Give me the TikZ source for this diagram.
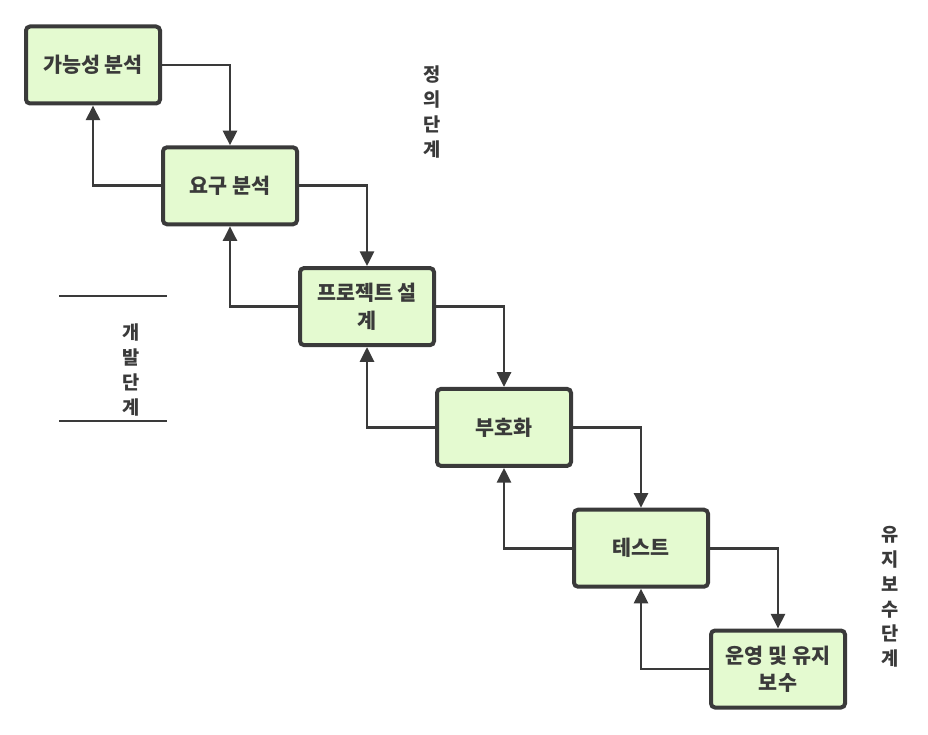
\documentclass[tikz,border=0pt]{standalone}
\usepackage{fontspec}
\newfontfamily\krfont{Noto Sans CJK KR}
\usepackage{xcolor}
\usetikzlibrary{arrows.meta, positioning}
\definecolor{boxfill}{HTML}{E4FAD0}
\definecolor{boxline}{HTML}{3A3A3A}

\begin{document}
\begin{tikzpicture}[
    node distance=29.85pt and -0.75pt,
    stage/.style={rectangle, draw=boxline, fill=boxfill, line width=3pt, rounded corners=3pt, minimum width=100.5pt, minimum height=57.75pt, align=center, text=boxline, font=\krfont\bfseries\fontsize{15.5}{20.5}\selectfont},
    phase/.style={align=center, text=boxline, font=\krfont\bfseries\fontsize{14}{18.6}\selectfont},
    arrow/.style={line width=2pt, draw=boxline, -{Triangle[length=11pt,width=10.5pt]}}
]
    \useasboundingbox (0,0) rectangle (696pt,-551.25pt);

    \node [stage] (feas) at (69.75pt,-48.75pt) {가능성 분석};
    \node [stage, below right=of feas] (req) {요구 분석};
    \node [stage, below right=of req] (design) {프로젝트 설\\계};
    \node [stage, below right=of design] (coding) {부호화};
    \node [stage, below right=of coding] (test) {테스트};
    \node [stage, below right=of test] (maint) {운영 및 유지\\보수};

    \node [phase] (defphase) at (324pt,-84pt) {정\\의\\단\\계};
    \node [phase] (devphase) at (98.25pt,-277.5pt) {개\\발\\단\\계};
    \node [phase] (mntphase) at (667.5pt,-447.75pt) {유\\지\\보\\수\\단\\계};

    \draw [line width=1.5pt, boxline] (44.25pt,-222pt) -- (125.25pt,-222pt);
    \draw [line width=1.5pt, boxline] (44.25pt,-315.75pt) -- (125.25pt,-315.75pt);

    \draw [arrow] (feas) -| (req);
    \draw [arrow] (req) -| (design);
    \draw [arrow] (design) -| (coding);
    \draw [arrow] (coding) -| (test);
    \draw [arrow] (test) -| (maint);

    \draw [arrow] (req) -| (feas);
    \draw [arrow] (design) -| (req);
    \draw [arrow] (coding) -| (design);
    \draw [arrow] (test) -| (coding);
    \draw [arrow] (maint) -| (test);
\end{tikzpicture}
\end{document}
